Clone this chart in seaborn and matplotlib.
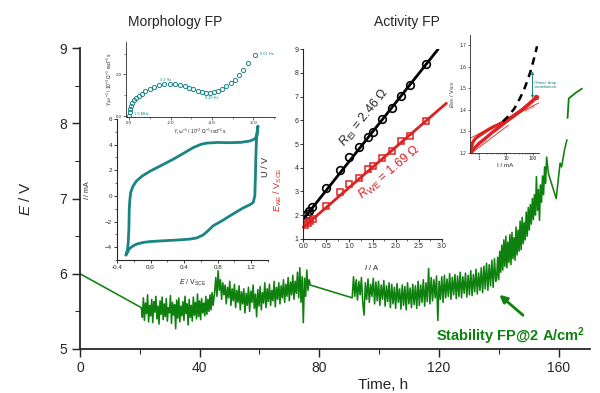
import numpy as np
import matplotlib
import matplotlib.pyplot as plt
import seaborn as sns
from matplotlib.ticker import MultipleLocator, FormatStrFormatter, LogLocator, NullFormatter

matplotlib.use('Agg')

# ---------------- data ----------------
# stability run, E / V vs time / h
t_start = [0.0]
E_start = [6.0]
seg1_E = [5.55, 5.42, 5.68, 5.38, 5.61, 5.47, 5.72, 5.36, 5.58, 5.44, 5.66, 5.35, 5.63, 5.49,
          5.70, 5.40, 5.57, 5.33, 5.64, 5.46, 5.69, 5.39, 5.60, 5.43, 5.67, 5.37, 5.55, 5.48,
          5.71, 5.34, 5.62, 5.45, 5.59, 5.27, 5.65, 5.41, 5.68, 5.36, 5.57, 5.44, 5.63, 5.38,
          5.70, 5.47, 5.60, 5.32, 5.66, 5.42, 5.58, 5.37, 5.69, 5.45, 5.62, 5.40, 5.73, 5.43,
          5.64, 5.39, 5.67, 5.48, 5.61, 5.44, 5.70, 5.46, 5.66, 5.50, 5.72, 5.52, 5.75, 5.58]
seg2_E = [5.75, 5.95, 5.70, 6.04, 5.78, 5.92, 5.66, 5.88, 5.72, 5.85, 5.60, 5.82, 5.68, 5.90,
          5.58, 5.80, 5.64, 5.86, 5.55, 5.78, 5.62, 5.84, 5.52, 5.76, 5.60, 5.80, 5.48, 5.74,
          5.58, 5.82, 5.50, 5.77, 5.62, 5.85, 5.54, 5.73, 5.43, 5.79, 5.57, 5.83, 5.52, 5.75,
          5.61, 5.88, 5.55, 5.80, 5.63, 5.86, 5.58, 5.78, 5.64, 5.90, 5.56, 5.82, 5.66, 5.88,
          5.60, 5.84, 5.68, 5.92, 5.62, 5.86, 5.70, 5.95, 5.64, 5.89, 5.72, 5.98, 5.66, 5.90,
          5.74, 6.02, 5.68, 6.08, 5.62, 5.96, 5.35, 5.94, 5.70, 6.05, 5.78, 5.92, 5.85]
seg3_E = [5.68, 5.96, 5.70, 5.92, 5.65, 5.90, 5.72, 5.95, 5.62, 5.45,
          5.88, 5.66, 5.93, 5.62, 5.86, 5.70, 5.94, 5.60, 5.89, 5.64,
          5.90, 5.58, 5.85, 5.66, 5.91, 5.57, 5.84, 5.63, 5.88, 5.55,
          5.86, 5.60, 5.82, 5.54, 5.87, 5.62, 5.80, 5.53, 5.85, 5.58,
          5.83, 5.52, 5.88, 5.60, 5.81, 5.55, 5.86, 5.59, 5.84, 5.54,
          5.90, 5.58, 5.85, 5.62, 5.92, 5.57, 5.88, 5.63, 6.07, 5.60,
          5.95, 5.64, 5.92, 5.68, 5.97, 5.38, 5.90, 5.66, 5.96, 5.62,
          5.98, 5.68, 5.93, 5.70, 6.00, 5.66, 5.95, 5.72, 5.99, 5.67,
          5.97, 5.70, 6.02, 5.68, 5.96, 5.74, 6.01, 5.69, 5.98, 5.72,
          6.04, 5.71, 5.99, 5.76, 6.06, 5.73, 6.01, 5.78, 6.08, 5.75,
          6.10, 5.80, 6.14, 5.78, 6.12, 5.84, 6.18, 5.82, 6.20, 5.90]
seg4_E = [5.95, 6.22, 5.92, 6.30, 6.02, 6.38, 6.05, 6.45, 6.10, 6.50,
          6.08, 6.42, 6.15, 6.52, 6.12, 6.55, 6.20, 6.48, 6.18, 6.62,
          6.25, 6.58, 6.30, 6.70, 6.32, 6.75, 6.40, 6.68, 6.45, 6.82,
          6.50, 6.88, 6.58, 6.92, 6.66, 7.00, 6.72, 7.05, 6.78, 7.29,
          6.84, 7.12, 6.71, 7.18, 6.95, 7.30, 7.05, 7.42, 7.20, 7.55]
tail_t = [156.6, 159.2, 160.5, 161.0, 162.0, 162.8]
tail_E = [7.33, 7.00, 7.47, 7.42, 7.65, 7.78]
end_t = [163.0, 163.4, 165.6, 167.8]
end_E = [8.07, 8.33, 8.40, 8.46]

# cyclic voltammogram
cv_E = [-0.293, -0.275, -0.266, -0.258, -0.254, -0.248, -0.237, -0.21, -0.17, -0.10, 0.0,
        0.12, 0.27, 0.40, 0.508, 0.60, 0.668, 0.80, 0.945, 1.08, 1.18, 1.23, 1.263, 1.28,
        1.262, 1.255, 1.25, 1.243, 1.223, 1.18, 1.10, 0.945, 0.85, 0.746, 0.68, 0.627, 0.55,
        0.469, 0.30, 0.151, 0.0, -0.087, -0.16, -0.206, -0.25, -0.293]
cv_I = [-4.61, -4.20, -3.63, -2.50, -1.03, -0.40, 0.26, 0.75, 1.15, 1.55, 1.95,
        2.35, 2.86, 3.35, 3.77, 4.02, 4.12, 4.17, 4.15, 4.18, 4.28, 4.40, 4.60, 5.45,
        4.30, 3.00, 1.50, 0.00, -0.52, -0.70, -0.95, -1.56, -1.95, -2.33, -2.75, -3.05, -3.28,
        -3.37, -3.45, -3.50, -3.56, -3.63, -3.75, -3.89, -4.10, -4.61]

# impedance (admittance plane)
eis_Yr = [0.0, -0.02, -0.05, -0.09, -0.15, -0.22, -0.32, -0.45, -0.6, -0.78, -0.98, -1.2,
          -1.45, -1.7, -1.95, -2.2, -2.45, -2.7, -2.9, -3.1, -3.3, -3.5, -3.7, -3.9, -4.1,
          -4.3, -4.5, -4.7, -4.9, -5.1, -5.3, -5.5, -5.75, -6.1]
eis_Yi = [0.02, 0.2, 0.35, 0.5, 0.62, 0.75, 0.87, 0.98, 1.08, 1.18, 1.3, 1.4,
          1.48, 1.53, 1.54, 1.52, 1.48, 1.42, 1.35, 1.28, 1.22, 1.17, 1.13, 1.12, 1.14,
          1.2, 1.3, 1.43, 1.58, 1.75, 1.97, 2.2, 2.55, 2.95]
eis_freq = ['1.0 MHz', '3.3 Hz', '0.20 Hz', '0.01 Hz']

# polarisation
pol_I = [0.07, 0.12, 0.18, 0.49, 0.80, 0.99, 1.21, 1.40, 1.52, 1.71, 1.92, 2.12, 2.31, 2.66]
pol_U = [2.04, 2.17, 2.35, 3.13, 3.90, 4.43, 4.86, 5.28, 5.51, 6.05, 6.50, 7.03, 7.49, 8.36]
pol_IWE = [0.04, 0.11, 0.15, 0.20, 0.49, 0.80, 0.99, 1.21, 1.40, 1.52, 1.71, 1.92, 2.12, 2.31, 2.66]
pol_EWE = [1.58, 1.65, 1.75, 1.83, 2.38, 2.96, 3.30, 3.57, 3.93, 4.07, 4.39, 4.70, 5.12, 5.33, 5.98]
fit_I = [0.0, 2.92]
fit_U = [1.82, 9.0]
fit_IWE = [0.0, 3.1]
fit_EWE = [1.48, 6.72]

# Tafel
taf_fwd_I = [0.5, 0.6, 0.8, 1, 1.5, 2, 3.3, 5, 8, 12, 20, 35, 60, 100, 133]
taf_fwd_E = [1.20, 1.215, 1.232, 1.245, 1.262, 1.275, 1.298, 1.315, 1.335, 1.352, 1.372, 1.395, 1.42, 1.444, 1.458]
taf_bwd_I = [133, 80, 40, 20, 10, 5, 3.3, 2, 1, 0.7, 0.55, 0.5]
taf_bwd_E = [1.458, 1.432, 1.40, 1.375, 1.35, 1.33, 1.32, 1.305, 1.28, 1.265, 1.245, 1.205]
taf_ir_I = [7.5, 12, 20, 32, 45, 60, 80, 100, 120, 140]
taf_ir_E = [1.345, 1.37, 1.405, 1.452, 1.49, 1.532, 1.578, 1.622, 1.66, 1.695]
tafel60_I = [0.45, 170]
tafel60_E = [1.267, 1.433]
tafel90_I = [0.5, 12]
tafel90_E = [1.197, 1.328]

GREEN = '#0e800e'
TEAL = '#1a8585'
RED = '#dd2222'

sns.set_theme(style="ticks")
plt.rcParams['font.family'] = ['Liberation Sans', 'DejaVu Sans']
plt.rcParams['mathtext.fontset'] = 'custom'
plt.rcParams['mathtext.rm'] = 'Liberation Sans'
plt.rcParams['mathtext.it'] = 'Liberation Sans:italic'
plt.rcParams['mathtext.bf'] = 'Liberation Sans:bold'

fig = plt.figure(figsize=(6, 3.93), dpi=100)


def clean(a, lw=1.0, size=4, minor=2):
    for s in ['top', 'right']:
        a.spines[s].set_visible(False)
    for s in ['left', 'bottom']:
        a.spines[s].set_linewidth(lw)
    a.tick_params(which='major', direction='out', length=minor * 1.6, width=lw * 0.8,
                  labelsize=size, pad=1)
    a.tick_params(which='minor', direction='out', length=minor, width=lw * 0.6)
    a.set_facecolor('none')
    a.grid(False)


# ---- main stability plot ----
ax = fig.add_axes([80 / 600, 1 - 349 / 393, 510 / 600, 301 / 393])
t_all = np.concatenate([t_start,
                        np.linspace(20.5, 44.5, len(seg1_E)),
                        np.linspace(45.0, 77.0, len(seg2_E)),
                        np.linspace(91.0, 139.0, len(seg3_E)),
                        np.linspace(139.3, 156.0, len(seg4_E)),
                        tail_t])
E_all = np.concatenate([E_start, seg1_E, seg2_E, seg3_E, seg4_E, tail_E])
sns.lineplot(x=t_all, y=E_all, ax=ax, sort=False, estimator=None, color=GREEN, lw=1.15)
sns.lineplot(x=end_t, y=end_E, ax=ax, sort=False, estimator=None, color=GREEN, lw=1.3)
ax.set_xlim(0, 170.5)
ax.set_ylim(5, 9)
clean(ax, lw=1.3, size=10, minor=3.5)
ax.tick_params(which='major', length=6, pad=3)
ax.xaxis.set_major_locator(MultipleLocator(40))
ax.xaxis.set_minor_locator(MultipleLocator(20))
ax.yaxis.set_major_locator(MultipleLocator(1))
ax.yaxis.set_minor_locator(MultipleLocator(0.5))
ax.set_xlabel('Time, h', fontsize=11)
ax.set_ylabel(r'$E$ / V', fontsize=11)
ax.xaxis.set_label_coords((383 - 80) / 510, -(378 - 349) / 301)
ax.yaxis.set_label_coords(-(80 - 33) / 510, 0.5)
ax.annotate('', xy=(139.5, 5.744), xytext=(148.8, 5.425),
            arrowprops=dict(arrowstyle='-|>', color=GREEN, lw=2, mutation_scale=11))
ax.text(143.8, 5.17, r'Stability FP@2 A/cm$^\mathbf{2}$', color=GREEN, fontsize=10.5,
        fontweight='bold', ha='center', va='center')

fig.text(175 / 600, 1 - 22 / 393, 'Morphology FP', ha='center', va='center', fontsize=10)
fig.text(407 / 600, 1 - 22 / 393, 'Activity FP', ha='center', va='center', fontsize=10)

# ---- CV inset ----
ax_cv = fig.add_axes([117 / 600, 1 - 260 / 393, 151 / 600, 141 / 393])
sns.lineplot(x=cv_E, y=cv_I, ax=ax_cv, sort=False, estimator=None, color=TEAL, lw=2)
ax_cv.set_xlim(-0.4, 1.4)
ax_cv.set_ylim(-5, 6)
clean(ax_cv, lw=0.8, size=4.5, minor=1.5)
ax_cv.xaxis.set_major_locator(MultipleLocator(0.4))
ax_cv.xaxis.set_minor_locator(MultipleLocator(0.2))
ax_cv.xaxis.set_major_formatter(FormatStrFormatter('%.1f'))
ax_cv.yaxis.set_major_locator(MultipleLocator(2))
ax_cv.yaxis.set_minor_locator(MultipleLocator(1))
ax_cv.set_xlabel(r'$E$ / V$_{\rm SCE}$', fontsize=5)
ax_cv.set_ylabel(r'$I$ / mA', fontsize=5)
ax_cv.xaxis.set_label_coords((193 - 117) / 151, -(278 - 260) / 141)
ax_cv.yaxis.set_label_coords(-(117 - 91) / 151, 0.5)

# ---- EIS inset ----
ax_eis = fig.add_axes([126 / 600, 1 - 117.3 / 393, 149 / 600, 75.6 / 393])
sns.lineplot(x=eis_Yr, y=eis_Yi, ax=ax_eis, sort=False, estimator=None, marker='o',
             ls='none', ms=3, mfc='none', mec=TEAL, mew=0.7)
ax_eis.set_xlim(0.16, -7.05)
ax_eis.set_ylim(-0.06, 3.57)
clean(ax_eis, lw=0.6, size=3.2, minor=1.2)
ax_eis.xaxis.set_major_locator(MultipleLocator(2))
ax_eis.xaxis.set_minor_locator(MultipleLocator(1))
ax_eis.yaxis.set_major_locator(MultipleLocator(2))
ax_eis.yaxis.set_minor_locator(MultipleLocator(1))
ax_eis.xaxis.set_major_formatter(FormatStrFormatter('%.1f'))
ax_eis.yaxis.set_major_formatter(FormatStrFormatter('%.1f'))
ax_eis.set_xlabel(r'$Y_r\,\omega^{-1}$ / 10$^{-3}$ Ω$^{-1}$ rad$^{-1}$ s', fontsize=3.5, labelpad=1)
ax_eis.set_ylabel(r'$Y_i\,\omega^{-1}$ / 10$^{-3}$ Ω$^{-1}$ rad$^{-1}$ s', fontsize=3.5, labelpad=1)
ax_eis.text(-0.25, 0.1, eis_freq[0], color=TEAL, fontsize=2.8, ha='left', va='center')
ax_eis.text(-1.75, 1.75, eis_freq[1], color=TEAL, fontsize=2.8, ha='center', va='center')
ax_eis.text(-4.0, 0.86, eis_freq[2], color=TEAL, fontsize=2.8, ha='center', va='center')
ax_eis.text(-6.3, 2.97, eis_freq[3], color=TEAL, fontsize=2.8, ha='left', va='center')

# ---- polarisation inset ----
ax_pol = fig.add_axes([303.3 / 600, 1 - 238.7 / 393, 138.4 / 600, 189.4 / 393])
sns.lineplot(x=fit_I, y=fit_U, ax=ax_pol, color='black', lw=2)
sns.lineplot(x=fit_IWE, y=fit_EWE, ax=ax_pol, color=RED, lw=2)
ax_pol.lines[-1].set_clip_on(False)
sns.lineplot(x=pol_I, y=pol_U, ax=ax_pol, sort=False, estimator=None, marker='o', ls='none',
             ms=5.5, mfc='none', mec='black', mew=1.2)
sns.lineplot(x=pol_IWE, y=pol_EWE, ax=ax_pol, sort=False, estimator=None, marker='s', ls='none',
             ms=4.3, mfc='none', mec=RED, mew=1.1)
ax_pol.set_xlim(0, 3.0)
ax_pol.set_ylim(1, 9)
clean(ax_pol, lw=0.8, size=5, minor=1.5)
ax_pol.xaxis.set_major_locator(MultipleLocator(0.5))
ax_pol.xaxis.set_minor_locator(MultipleLocator(0.25))
ax_pol.xaxis.set_major_formatter(FormatStrFormatter('%.1f'))
ax_pol.yaxis.set_major_locator(MultipleLocator(1))
ax_pol.set_xlabel(r'$I$ / A', fontsize=5.5)
ax_pol.xaxis.set_label_coords((372 - 303.3) / 138.4, -(263 - 238.7) / 189.4)
ax_pol.text(1.32, 6.11, r'$R_{\rm EI}$ = 2.46 Ω', rotation=51, ha='center', va='center',
            fontsize=9, rotation_mode='anchor')
ax_pol.text(1.86, 3.77, r'$R_{\rm WE}$ = 1.69 Ω', rotation=40, ha='center', va='center',
            fontsize=9, color=RED, rotation_mode='anchor')
fig.text(266 / 600, 1 - 167 / 393, 'U / V', rotation=90, ha='center', va='center', fontsize=6.5)
fig.text(278 / 600, 1 - 190 / 393, r'$E_{\rm WE}$ / V$_{\rm SCE}$', rotation=90, ha='center',
         va='center', fontsize=6.5, color=RED)

# ---- Tafel inset ----
ax_taf = fig.add_axes([470 / 600, 1 - 152.7 / 393, 69.3 / 600, 118.2 / 393])
sns.lineplot(x=taf_fwd_I, y=taf_fwd_E, ax=ax_taf, sort=False, estimator=None, color=RED, lw=2.4)
sns.lineplot(x=taf_bwd_I, y=taf_bwd_E, ax=ax_taf, sort=False, estimator=None, color=RED, lw=2.4)
sns.lineplot(x=tafel60_I, y=tafel60_E, ax=ax_taf, color=RED, lw=0.6)
sns.lineplot(x=tafel90_I, y=tafel90_E, ax=ax_taf, color=RED, lw=0.6)
sns.lineplot(x=taf_ir_I, y=taf_ir_E, ax=ax_taf, sort=False, estimator=None, color='black',
             lw=1.8, dashes=False)
ax_taf.lines[-1].set_dashes([3, 2.2])
ax_taf.plot(taf_fwd_I[-1:], taf_fwd_E[-1:], 'o', ms=3, mfc='none', mec=RED, mew=0.8)
ax_taf.set_xscale('log')
ax_taf.set_xlim(0.45, 170)
ax_taf.set_ylim(1.2, 1.75)
clean(ax_taf, lw=0.6, size=3.5, minor=1.0)
ax_taf.set_xticks([1, 10, 100])
ax_taf.set_xticklabels(['1', '10', '100'])
ax_taf.xaxis.set_minor_locator(LogLocator(base=10, subs=range(2, 10)))
ax_taf.xaxis.set_minor_formatter(NullFormatter())
ax_taf.yaxis.set_major_locator(MultipleLocator(0.1))
ax_taf.yaxis.set_major_formatter(FormatStrFormatter('%.1f'))
ax_taf.set_xlabel(r'I / mA', fontsize=4.5, labelpad=1)
ax_taf.set_ylabel(r'$E_{\rm WE}$ / V$_{\rm SCE}$', fontsize=4, color='#333333', labelpad=1.5)
ax_taf.annotate('', xy=(95, 1.578), xytext=(95, 1.453),
                arrowprops=dict(arrowstyle='<->', color=TEAL, lw=0.7, mutation_scale=4,
                                shrinkA=0, shrinkB=0))
ax_taf.text(112, 1.515, 'Ohmic drop\ncontribution', color=TEAL, fontsize=3.2,
            ha='left', va='center', linespacing=1.3)
ax_taf.text(79, 1.406, '60 mV', color=RED, fontsize=2.8, rotation=27, ha='center', va='center')
ax_taf.text(1.4, 1.244, '90 mV', color=RED, fontsize=2.8, rotation=37, ha='center', va='center')

plt.savefig('out.png', dpi=100)
